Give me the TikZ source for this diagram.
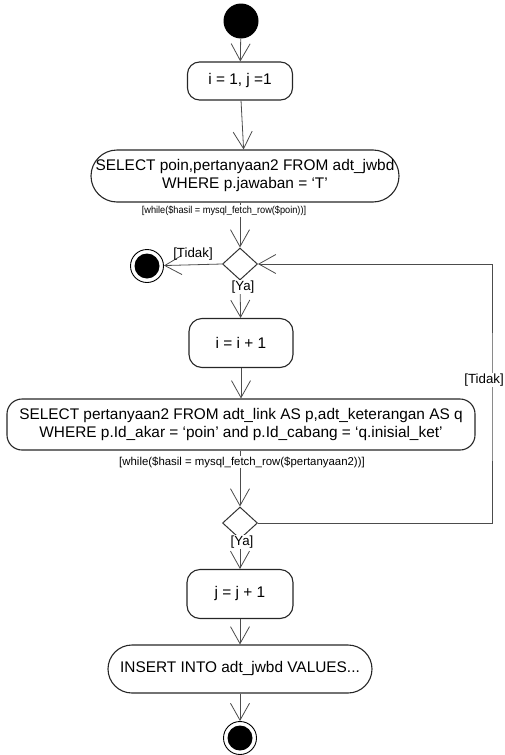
\documentclass[tikz,border=0pt]{standalone}
\usepackage{fontspec}
\usepackage{graphicx}
\setmainfont{Liberation Sans}
\usetikzlibrary{arrows.meta,shapes.geometric}
\tikzset{
  act/.style={draw=black!85, line width=1.1pt, rectangle, align=center, inner sep=0pt, font=\fontsize{15.4}{18}\selectfont},
  guard/.style={font=\fontsize{11.4}{13}\selectfont, fill=white, inner sep=1pt},
  guardsmall/.style={font=\fontsize{10}{12}\selectfont, fill=white, inner sep=1pt},
  branch/.style={font=\fontsize{13.3}{15}\selectfont, fill=white, inner sep=0.5pt},
  flow/.style={draw=black!70, line width=0.8pt, -{Straight Barb[length=17pt,width=19pt,line width=0.8pt]}},
  dec/.style={diamond, draw=black!80, line width=1pt, minimum width=35pt, minimum height=32pt, inner sep=0pt},
  startnode/.style={circle, fill=black, minimum size=35pt, inner sep=0pt},
  endnode/.style={circle, draw=black, line width=0.9pt, minimum size=33pt, inner sep=0pt,
    path picture={\fill (path picture bounding box.center) circle (12.5pt);}}
}
\begin{document}
\begin{tikzpicture}[x=1pt,y=-1pt]
\useasboundingbox (0,0) rectangle (505,755);
\node[startnode] (start) at (241,21) {};
\node[act, rounded corners=12pt, minimum width=105pt, minimum height=38pt] (b1) at (240,81) {i = 1, j =1};
\node[act, rounded corners=26pt, minimum width=308pt, minimum height=52pt] (b2) at (245,176) {SELECT poin,pertanyaan2 FROM adt\_jwbd\\WHERE p.jawaban = ‘T’};
\node[dec] (d1) at (240,264) {};
\node[endnode] (e1) at (147,266) {};
\node[act, rounded corners=13pt, minimum width=104pt, minimum height=49pt] (b3) at (241,343) {i = i + 1};
\node[act, rounded corners=15pt, minimum width=468pt, minimum height=51pt] (b4) at (241,424.5) {SELECT pertanyaan2 FROM adt\_link AS p,adt\_keterangan AS q\\WHERE p.Id\_akar = ‘poin’ and p.Id\_cabang = ‘q.inisial\_ket’};
\node[dec] (d2) at (240,523) {};
\node[act, rounded corners=13pt, minimum width=106pt, minimum height=49pt] (b5) at (240,594) {j = j + 1};
\node[act, rounded corners=24pt, minimum width=264pt, minimum height=48pt] (b6) at (240,669) {INSERT INTO adt\_jwbd VALUES...};
\node[endnode] (e2) at (240,738) {};
\coordinate (rt) at (492,400);

\draw[flow] (start) -- (b1);
\draw[flow] (b1) -- (b2);
\draw[flow] (b2.south -| d1.north) -- (d1.north);
\draw[flow] (d1.west) -- (e1);
\draw[flow] (d1.south) -- (b3);
\draw[flow] (b3) -- (b4.north -| b3.south);
\draw[flow] (b4.south -| d2.north) -- (d2.north);
\draw[flow] (d2.south) -- (b5);
\draw[flow] (b5) -- (b6);
\draw[flow] (b6) -- (e2);
\draw[flow] (d2.east) -| (rt) |- (d1.east);

\node[guardsmall] (g1) at (224,211) {\scalebox{0.92}[1]{[while(\$hasil = mysql\_fetch\_row(\$poin))]}};
\node[guard] (g2) at (242,462) {[while(\$hasil = mysql\_fetch\_row(\$pertanyaan2))]};
\node[branch, fill=none] (t1) at (193,254) {[Tidak]};
\node[branch] (y1) at (243,287) {[Ya]};
\node[branch] (y2) at (242,542) {[Ya]};
\node[branch, anchor=east] (t2) at (504.5,380) {[Tidak]};
\end{tikzpicture}
\end{document}
